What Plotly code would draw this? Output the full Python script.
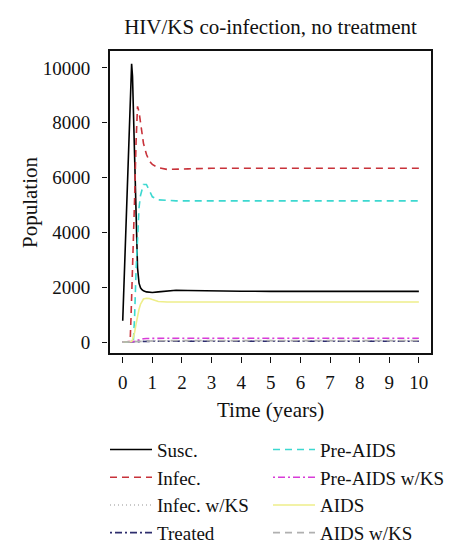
import plotly.graph_objects as go

# ---- data ----
time_years = [0, 0.1, 0.2, 0.25, 0.28, 0.3, 0.33, 0.36, 0.4, 0.45, 0.5, 0.55, 0.6, 0.65,
              0.7, 0.8, 0.9, 1.0, 1.2, 1.5, 1.8, 2.2, 3, 4, 5, 6, 7, 8, 9, 10]

susc = [780, 3900, 7000, 8600, 9600, 10150, 9700, 8600, 6700, 4400, 2700, 2150, 1980, 1910,
        1870, 1830, 1810, 1810, 1830, 1870, 1890, 1880, 1860, 1855, 1850, 1850, 1850, 1850, 1850, 1850]
infec = [0, 0, 0, 20, 900, 1500, 2600, 3700, 5200, 7300, 8600, 8400, 7950, 7550,
         7250, 6850, 6600, 6480, 6360, 6300, 6300, 6320, 6340, 6340, 6340, 6340, 6340, 6340, 6340, 6340]
infec_ks = [0, 0, 0, 0, 0, 2, 5, 8, 12, 18, 25, 30, 35, 38,
            40, 42, 44, 45, 46, 46, 46, 46, 46, 46, 46, 46, 46, 46, 46, 46]
treated = [0, 0, 0, 0, 0, 0, 1, 2, 4, 7, 10, 13, 16, 18,
           20, 23, 25, 27, 29, 30, 30, 30, 30, 30, 30, 30, 30, 30, 30, 30]
pre_aids = [0, 0, 0, 0, 0, 0, 0, 50, 900, 2600, 4000, 4900, 5350, 5600,
            5750, 5750, 5500, 5300, 5190, 5160, 5150, 5150, 5150, 5150, 5150, 5150, 5150, 5150, 5150, 5150]
pre_aids_ks = [0, 0, 0, 0, 0, 0, 5, 10, 25, 45, 65, 85, 100, 110,
               120, 130, 135, 140, 140, 140, 140, 140, 140, 140, 140, 140, 140, 140, 140, 140]
aids = [0, 0, 0, 0, 0, 20, 80, 180, 350, 650, 950, 1200, 1380, 1500,
        1570, 1600, 1590, 1550, 1480, 1460, 1460, 1460, 1460, 1460, 1460, 1460, 1460, 1460, 1460, 1460]
aids_ks = [0, 0, 0, 0, 0, 0, 0, 1, 3, 6, 10, 15, 20, 25,
           29, 35, 40, 43, 47, 50, 50, 50, 50, 50, 50, 50, 50, 50, 50, 50]

series_names = ["Susc.", "Infec.", "Infec. w/KS", "Treated",
                "Pre-AIDS", "Pre-AIDS w/KS", "AIDS", "AIDS w/KS"]
series_values = [susc, infec, infec_ks, treated, pre_aids, pre_aids_ks, aids, aids_ks]

x_ticks = list(range(0, 11))
y_ticks = [0, 2000, 4000, 6000, 8000, 10000]

# ---- styles ----
styles = [
    dict(color="#000000", dash="solid"),
    dict(color="#C8323A", dash="7px,5px"),
    dict(color="#B8B8B8", dash="1px,3px"),
    dict(color="#2E2E6E", dash="2px,3px,7px,3px"),
    dict(color="#3CD8D0", dash="7px,5px"),
    dict(color="#D83CD8", dash="2px,3px,7px,3px"),
    dict(color="#EEEE8A", dash="solid"),
    dict(color="#B0B0B0", dash="7px,5px"),
]
legend_group = ["legend"] * 4 + ["legend2"] * 4

FONT = "Liberation Serif"

fig = go.Figure()
for name, vals, st, lg in zip(series_names, series_values, styles, legend_group):
    fig.add_trace(go.Scatter(
        x=time_years, y=vals, mode="lines", name=name, legend=lg,
        line=dict(color=st["color"], dash=st["dash"], width=1.6),
    ))

# invisible helpers so the offset tick axes are drawn
fig.add_trace(go.Scatter(x=[None], y=[None], xaxis="x2", yaxis="y", showlegend=False,
                         hoverinfo="skip"))
fig.add_trace(go.Scatter(x=[None], y=[None], xaxis="x", yaxis="y2", showlegend=False,
                         hoverinfo="skip"))

W, H = 474, 559
OFF = 8  # page body offset
ML, MR, MT, MB = 100 - OFF, 43 + OFF, 51 - OFF, 196 + OFF
pw = W - ML - MR
ph = H - MT - MB
xd0 = 10 / pw
yd0 = 10 / ph

leg_common = dict(orientation="v", yanchor="top", xanchor="left", itemwidth=42,
                  font=dict(family=FONT, size=19), bgcolor="rgba(0,0,0,0)",
                  traceorder="normal")

fig.update_layout(
    width=W, height=H,
    margin=dict(l=ML, r=MR, t=MT, b=MB, autoexpand=False),
    paper_bgcolor="white", plot_bgcolor="white",
    font=dict(family=FONT, size=18, color="#111111"),
    showlegend=True,
    legend=dict(x=5 / pw, y=-0.217, **leg_common),
    legend2=dict(x=168 / pw, y=-0.217, **leg_common),
    xaxis=dict(domain=[xd0, 1], range=[-0.43, 10.41], showgrid=False, zeroline=False,
               showline=True, mirror=True, linecolor="#111111", linewidth=1.5,
               ticks="", showticklabels=False),
    yaxis=dict(domain=[yd0, 1], range=[-400, 10620], showgrid=False, zeroline=False,
               showline=True, mirror=True, linecolor="#111111", linewidth=1.5,
               ticks="", showticklabels=False),
    xaxis2=dict(overlaying="x", anchor="free", position=(yd0 * ph - 3) / ph, side="bottom",
                range=[-0.43, 10.41], domain=[xd0, 1], showgrid=False, zeroline=False,
                showline=False, tickmode="array", tickvals=x_ticks,
                ticktext=[str(v) for v in x_ticks], ticks="outside", ticklen=6,
                tickwidth=1.3, tickcolor="#111111", ticklabelstandoff=3,
                tickfont=dict(family=FONT, size=19)),
    yaxis2=dict(overlaying="y", anchor="free", position=(xd0 * pw - 3) / pw, side="left",
                range=[-400, 10620], domain=[yd0, 1], showgrid=False, zeroline=False,
                showline=False, tickmode="array", tickvals=y_ticks,
                ticktext=[str(v) for v in y_ticks], ticks="outside", ticklen=5,
                tickwidth=1.3, tickcolor="#111111", ticklabelstandoff=8,
                tickfont=dict(family=FONT, size=19)),
    title=dict(text="HIV/KS co-infection, no treatment", x=(270.5 - OFF) / W, xref="container",
               xanchor="center", y=1 - (27 - OFF) / H, yref="container", yanchor="middle",
               font=dict(family=FONT, size=21)),
    annotations=[
        dict(text="Population", textangle=-90, xref="paper", yref="paper",
             x=(30 - 100) / pw, y=(363 - 202) / ph, xanchor="center", yanchor="middle",
             showarrow=False, font=dict(family=FONT, size=21)),
        dict(text="Time (years)", xref="paper", yref="paper",
             x=(270.5 - 100) / pw, y=(363 - 410) / ph, xanchor="center", yanchor="middle",
             showarrow=False, font=dict(family=FONT, size=21)),
    ],
)

fig.write_html("out.html")
